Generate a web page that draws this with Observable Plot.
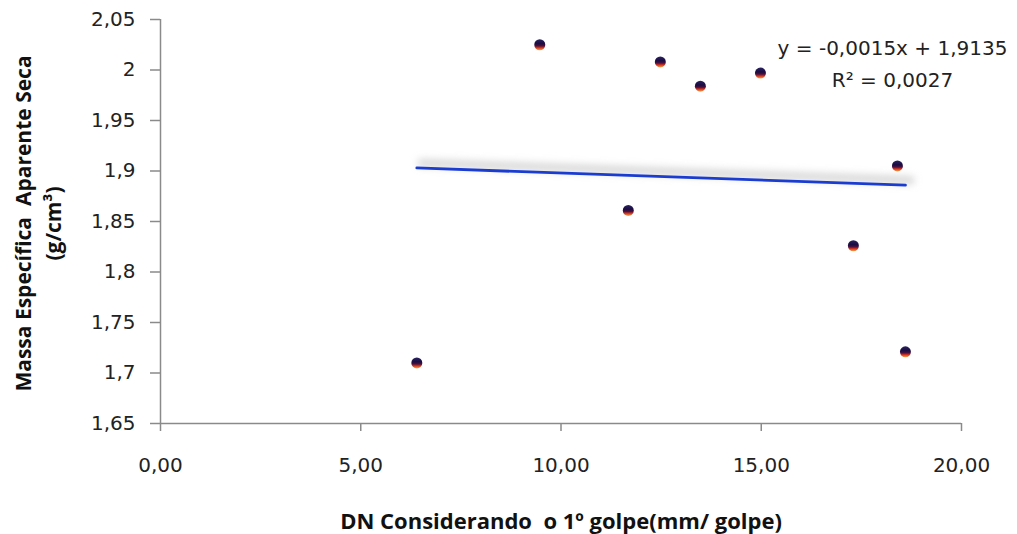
<!DOCTYPE html>
<html><head><meta charset="utf-8">
<script src="https://cdn.jsdelivr.net/npm/d3@7"></script>
<script src="https://cdn.jsdelivr.net/npm/@observablehq/plot@0.6"></script>
<style>body{margin:0;background:#fff;} svg{font-family:"Open Sans",sans-serif;}</style>
</head><body><div id="chart"></div>
<script>
const dnValues = [6.4, 9.47, 11.68, 12.48, 13.48, 14.98, 17.3, 18.4, 18.6];
const densityValues = [1.710, 2.025, 1.861, 2.008, 1.984, 1.997, 1.826, 1.905, 1.721];
const trendX = [6.4, 18.6];
const trendY = [1.903, 1.886];
const yTicks = [1.65, 1.7, 1.75, 1.8, 1.85, 1.9, 1.95, 2, 2.05];
const xTicks = [0, 5, 10, 15, 20];
const equationText = "y = -0,0015x + 1,9135\nR² = 0,0027";
const xTitle = "DN Considerando  o 1º golpe(mm/ golpe)";
const yTitle = "Massa Específica  Aparente Seca\n(g/cm³)";

const points = dnValues.map((x, i) => ({x, y: densityValues[i]}));
const trend = trendX.map((x, i) => ({x, y: trendY[i]}));
const axisColor = "#8a8a8a";
const tickFont = '"DejaVu Sans", sans-serif';

const plot = Plot.plot({
  width: 1017, height: 534,
  marginLeft: 160, marginRight: 56, marginTop: 19, marginBottom: 111,
  style: {fontFamily: '"Open Sans", sans-serif', background: "#fff", overflow: "visible"},
  x: {domain: [0, 20]},
  y: {domain: [1.65, 2.05]},
  marks: [
    Plot.axisY(yTicks, {tickSize: 10, tickPadding: 15, stroke: axisColor, strokeWidth: 1.5, fill: "#222", fontSize: 20, fontFamily: tickFont, tickFormat: d => String(d).replace(".", ","), label: null}),
    Plot.axisX(xTicks, {tickSize: 8, tickPadding: 26, stroke: axisColor, strokeWidth: 1.5, fill: "#222", fontSize: 20, fontFamily: tickFont, tickFormat: d => d.toFixed(2).replace(".", ","), label: null}),
    Plot.ruleX([0], {stroke: axisColor, strokeWidth: 1.5}),
    Plot.ruleY([1.65], {stroke: axisColor, strokeWidth: 1.5}),
    Plot.line(trend, {x: "x", y: "y", stroke: "#c4c4c4", strokeWidth: 9, strokeOpacity: 0.6, dy: -5, dx: 5}),
    Plot.line(trend, {x: "x", y: "y", stroke: "#1a3cd0", strokeWidth: 2.8}),
    Plot.dot(points, {x: "x", y: "y", r: 5.5, fill: "#1a0f4a", stroke: "none"}),
    Plot.text([equationText], {frameAnchor: "top-right", dx: -69, dy: 12, textAnchor: "middle", lineAnchor: "top", fontSize: 20, fontFamily: tickFont, fill: "#222", lineHeight: 1.63}),
    Plot.text([xTitle], {frameAnchor: "bottom", dy: 98, lineAnchor: "middle", fontWeight: "bold", fontSize: 22, fill: "#111"}),
    Plot.text([yTitle], {frameAnchor: "left", dx: -124, dy: 2, rotate: -90, textAnchor: "middle", lineAnchor: "middle", fontWeight: "bold", fontSize: 21, lineHeight: 1.43, fill: "#111"})
  ]
});

const svg = d3.select(plot);
const defs = svg.insert("defs", ":first-child");
const grad = defs.append("linearGradient").attr("id", "dotGrad").attr("x1", 0).attr("y1", 0).attr("x2", 0).attr("y2", 1);
[["0%", "#2a2262"], ["40%", "#1a0c40"], ["60%", "#4a1040"], ["76%", "#d0301c"], ["100%", "#f4a848"]].forEach(([o, c]) =>
  grad.append("stop").attr("offset", o).attr("stop-color", c));
defs.append("filter").attr("id", "shadowBlur").attr("x", "-10%").attr("y", "-300%").attr("width", "120%").attr("height", "700%")
  .append("feGaussianBlur").attr("stdDeviation", 3.5);
svg.selectAll('g[aria-label="dot"] circle').attr("fill", "url(#dotGrad)");
const lineGroups = svg.selectAll('g[aria-label="line"]').nodes();
if (lineGroups.length) d3.select(lineGroups[0]).attr("filter", "url(#shadowBlur)");
document.getElementById("chart").appendChild(plot);
</script>
</body></html>
